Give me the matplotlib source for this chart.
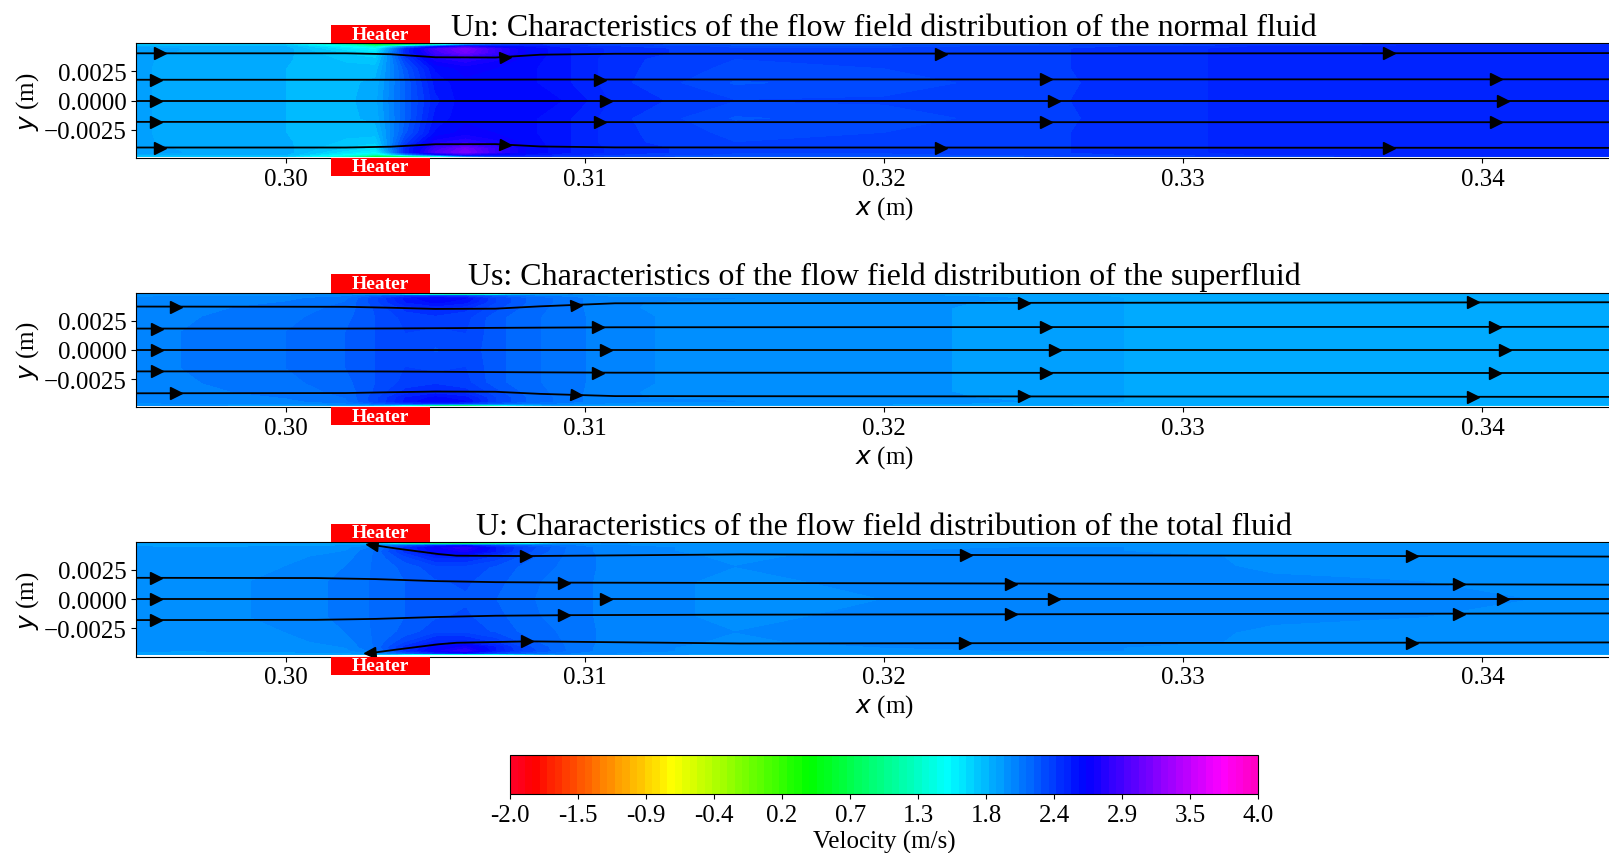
import numpy as np
import matplotlib
matplotlib.use("Agg")
import matplotlib.pyplot as plt
from matplotlib.patches import Rectangle
from matplotlib.markers import MarkerStyle
from matplotlib.transforms import Affine2D

plt.rcParams['font.family'] = ['Liberation Serif', 'DejaVu Serif']
plt.rcParams['mathtext.fontset'] = 'dejavusans'

# sampling stations of the velocity field (m)
x_st = [0.295, 0.2965, 0.300, 0.302, 0.303, 0.304, 0.305, 0.306, 0.307, 0.308,
        0.3095, 0.311, 0.315, 0.320, 0.3245, 0.328, 0.333, 0.338, 0.345]
y_half = [0.0, 0.0015, 0.0028, 0.0036, 0.0041, 0.0044, 0.0046, 0.00475]

# velocity (m/s), one list per x station, from centreline to wall
un_cols = [
    [1.92, 1.92, 1.92, 1.92, 1.94, 1.94, 1.88, 1.72],
    [1.86, 1.86, 1.86, 1.87, 1.89, 1.90, 1.88, 1.76],
    [1.84, 1.84, 1.84, 1.85, 1.86, 1.87, 1.84, 1.72],
    [1.82, 1.82, 1.80, 1.76, 1.70, 1.62, 1.50, 1.24],
    [1.88, 1.86, 1.80, 1.72, 1.62, 1.52, 1.26, 0.60],
    [2.20, 2.20, 2.24, 2.34, 2.44, 2.44, 2.02, 0.80],
    [2.48, 2.52, 2.57, 2.72, 2.87, 2.92, 2.50, 1.30],
    [2.60, 2.60, 2.65, 2.80, 3.10, 3.15, 2.80, 2.00],
    [2.62, 2.62, 2.62, 2.70, 2.85, 2.85, 2.60, 2.30],
    [2.60, 2.58, 2.58, 2.60, 2.62, 2.62, 2.55, 2.40],
    [2.55, 2.50, 2.50, 2.50, 2.50, 2.50, 2.45, 2.35],
    [2.42, 2.40, 2.40, 2.40, 2.42, 2.42, 2.38, 2.30],
    [2.32, 2.25, 2.30, 2.32, 2.33, 2.33, 2.30, 2.20],
    [2.33, 2.28, 2.32, 2.33, 2.33, 2.33, 2.30, 2.20],
    [2.36, 2.35, 2.36, 2.36, 2.36, 2.36, 2.33, 2.25],
    [2.40, 2.40, 2.40, 2.40, 2.40, 2.40, 2.38, 2.30],
    [2.47, 2.47, 2.47, 2.47, 2.47, 2.47, 2.45, 2.35],
    [2.50, 2.50, 2.50, 2.50, 2.50, 2.50, 2.48, 2.40],
    [2.45, 2.50, 2.50, 2.50, 2.50, 2.50, 2.48, 2.40],
]
us_cols = [
    [2.05, 2.05, 2.05, 2.05, 2.04, 2.03, 2.00, 1.95],
    [2.08, 2.08, 2.07, 2.06, 2.05, 2.04, 2.02, 1.95],
    [2.14, 2.14, 2.12, 2.10, 2.08, 2.06, 2.02, 1.92],
    [2.20, 2.20, 2.18, 2.16, 2.14, 2.12, 2.06, 1.90],
    [2.26, 2.26, 2.26, 2.27, 2.30, 2.30, 2.20, 1.70],
    [2.32, 2.32, 2.34, 2.40, 2.50, 2.52, 2.30, 1.20],
    [2.25, 2.30, 2.36, 2.46, 2.58, 2.62, 2.35, 0.60],
    [2.30, 2.32, 2.34, 2.40, 2.52, 2.56, 2.30, 0.50],
    [2.22, 2.22, 2.22, 2.28, 2.32, 2.32, 2.20, 1.00],
    [2.16, 2.16, 2.16, 2.18, 2.20, 2.20, 2.10, 1.60],
    [2.10, 2.10, 2.10, 2.10, 2.10, 2.10, 2.05, 1.90],
    [2.04, 2.04, 2.04, 2.03, 2.03, 2.03, 2.00, 1.90],
    [1.98, 1.98, 1.98, 1.98, 1.99, 2.02, 2.00, 1.90],
    [1.97, 1.97, 1.97, 1.97, 1.98, 2.00, 1.98, 1.88],
    [1.95, 1.95, 1.95, 1.95, 1.95, 1.96, 1.94, 1.86],
    [1.90, 1.90, 1.90, 1.90, 1.90, 1.90, 1.89, 1.84],
    [1.88, 1.88, 1.88, 1.88, 1.88, 1.88, 1.87, 1.82],
    [1.88, 1.88, 1.88, 1.88, 1.88, 1.88, 1.87, 1.82],
    [1.88, 1.88, 1.88, 1.88, 1.88, 1.88, 1.87, 1.82],
]
u_cols = [
    [2.02, 2.02, 2.02, 2.00, 1.98, 1.97, 1.95, 1.90],
    [2.00, 2.00, 2.00, 1.99, 1.97, 1.96, 1.95, 1.90],
    [2.03, 2.03, 2.02, 2.00, 1.98, 1.97, 1.95, 1.90],
    [2.10, 2.10, 2.08, 2.05, 2.02, 2.00, 1.95, 1.85],
    [2.15, 2.15, 2.15, 2.15, 2.15, 2.10, 2.00, 1.70],
    [2.20, 2.20, 2.22, 2.30, 2.40, 2.40, 2.20, 1.00],
    [2.22, 2.25, 2.30, 2.45, 2.60, 2.65, 2.40, 0.60],
    [2.25, 2.27, 2.30, 2.45, 2.70, 2.80, 2.50, 0.50],
    [2.20, 2.22, 2.25, 2.35, 2.50, 2.50, 2.30, 0.80],
    [2.15, 2.16, 2.18, 2.22, 2.28, 2.30, 2.20, 1.30],
    [2.10, 2.10, 2.12, 2.12, 2.12, 2.12, 2.08, 1.90],
    [2.06, 2.06, 2.05, 2.05, 2.04, 2.04, 2.02, 1.95],
    [2.00, 2.00, 2.02, 2.01, 2.00, 2.00, 1.98, 1.92],
    [2.02, 2.04, 2.06, 2.04, 2.02, 2.01, 2.00, 1.92],
    [2.03, 2.05, 2.06, 2.05, 2.03, 2.02, 2.00, 1.92],
    [2.02, 2.04, 2.05, 2.04, 2.02, 2.02, 2.00, 1.92],
    [2.05, 2.03, 2.01, 2.01, 2.01, 2.01, 2.00, 1.92],
    [2.04, 2.02, 2.00, 2.00, 2.00, 2.00, 1.98, 1.92],
    [2.00, 2.00, 2.00, 2.00, 2.00, 2.00, 1.98, 1.92],
]

# streamlines: (x points, y points) per line
sl_x = [0.295, 0.302, 0.3035, 0.305, 0.307, 0.3085, 0.311, 0.345]
un_lines = [
    (sl_x, [0.00404, 0.00404, 0.00396, 0.00370, 0.00368, 0.00392, 0.00400, 0.00406]),
    (sl_x, [0.00178, 0.00178, 0.00178, 0.00178, 0.00179, 0.00180, 0.00180, 0.00182]),
    (sl_x, [0, 0, 0, 0, 0, 0, 0, 0]),
    (sl_x, [-0.00182, -0.00182, -0.00182, -0.00182, -0.00183, -0.00184, -0.00184, -0.00185]),
    (sl_x, [-0.00401, -0.00401, -0.00394, -0.00373, -0.00372, -0.00392, -0.00400, -0.00404]),
]
us_lines = [
    (sl_x, [0.00370, 0.00368, 0.00360, 0.00350, 0.00352, 0.00372, 0.00398, 0.00407]),
    (sl_x, [0.00182, 0.00182, 0.00183, 0.00185, 0.00188, 0.00190, 0.00193, 0.00197]),
    (sl_x, [0, 0, 0, 0, 0, 0, 0, 0]),
    (sl_x, [-0.00184, -0.00184, -0.00185, -0.00187, -0.00190, -0.00192, -0.00195, -0.00198]),
    (sl_x, [-0.00371, -0.00369, -0.00362, -0.00356, -0.00358, -0.00376, -0.00395, -0.00402]),
]
u_wall_x = [0.3028, 0.3037, 0.3051, 0.3057, 0.3081, 0.3152, 0.345]
u_mid_x = [0.295, 0.301, 0.303, 0.305, 0.307, 0.3095, 0.315, 0.345]
u_lines = [
    (u_wall_x, [0.00467, 0.00433, 0.00386, 0.00372, 0.00369, 0.00383, 0.00364]),
    (u_mid_x, [0.00183, 0.00181, 0.00172, 0.00155, 0.00146, 0.00142, 0.00139, 0.00124]),
    ([0.295, 0.345], [0, 0]),
    (u_mid_x, [-0.00178, -0.00176, -0.00168, -0.00152, -0.00141, -0.00136, -0.00132, -0.00121]),
    (u_wall_x, [-0.00461, -0.00430, -0.00385, -0.00372, -0.00360, -0.00378, -0.00369]),
]

# arrow positions along each streamline (x) and their direction (+1 right, -1 left)
un_arrows = [[0.29579, 0.30731, 0.32189, 0.33689],
             [0.29566, 0.31049, 0.32541, 0.34044],
             [0.29566, 0.31069, 0.32569, 0.34069],
             [0.29566, 0.31049, 0.32541, 0.34044],
             [0.29579, 0.30731, 0.32189, 0.33689]]
us_arrows = [[0.29632, 0.30970, 0.32467, 0.33967],
             [0.29568, 0.31042, 0.32541, 0.34041],
             [0.29568, 0.31069, 0.32572, 0.34074],
             [0.29568, 0.31042, 0.32541, 0.34041],
             [0.29632, 0.30970, 0.32467, 0.33967]]
u_arrows = [[0.30287, 0.30804, 0.32272, 0.33763],
            [0.29566, 0.30930, 0.32424, 0.33920],
            [0.29566, 0.31069, 0.32569, 0.34069],
            [0.29566, 0.30930, 0.32424, 0.33920],
            [0.30280, 0.30805, 0.32271, 0.33764]]
u_arrow_dir = [[-1, 1, 1, 1], [1, 1, 1, 1], [1, 1, 1, 1], [1, 1, 1, 1], [-1, 1, 1, 1]]
right_dir = [[1, 1, 1, 1]] * 5

titles = ["Un: Characteristics of the flow field distribution of the normal fluid",
          "Us: Characteristics of the flow field distribution of the superfluid",
          "U: Characteristics of the flow field distribution of the total fluid"]

heater_x = (0.3015, 0.3048)
cbar_labels = ['-2.0', '-1.5', '-0.9', '-0.4', '0.2', '0.7', '1.3', '1.8', '2.4', '2.9', '3.5', '4.0']

levels = np.linspace(-2, 4, 101)
ylim = 0.0049

fig = plt.figure(figsize=(16.09, 8.54), dpi=100)
bottoms = [0.8139, 0.522, 0.230]

panels = [(un_cols, un_lines, un_arrows, right_dir),
          (us_cols, us_lines, us_arrows, right_dir),
          (u_cols, u_lines, u_arrows, u_arrow_dir)]

for b, (cols, lines, arrows, dirs), title in zip(bottoms, panels, titles):
    ax = fig.add_axes([0.0848, b, 0.9295, 0.1343])
    ax.set_xlim(0.295, 0.345)
    ax.set_ylim(-ylim, ylim)

    half = np.array(cols).T
    z = np.vstack([half[:0:-1], half])
    yy = np.concatenate([-np.array(y_half)[:0:-1], y_half])
    cf = ax.contourf(x_st, yy, z, levels=levels, cmap='gist_rainbow')

    for (lx, ly), ax_x, ds in zip(lines, arrows, dirs):
        ax.plot(lx, ly, color='k', lw=1.3, zorder=3)
        for xa, d in zip(ax_x, ds):
            ya = np.interp(xa, lx, ly)
            p0 = ax.transData.transform((xa - 0.0003, np.interp(xa - 0.0003, lx, ly)))
            p1 = ax.transData.transform((xa + 0.0003, np.interp(xa + 0.0003, lx, ly)))
            ang = np.degrees(np.arctan2(p1[1] - p0[1], p1[0] - p0[0]))
            if d < 0:
                ang += 180
            m = MarkerStyle('>', transform=Affine2D().rotate_deg(ang))
            ax.plot(xa, ya, marker=m, color='k', ms=8, ls='none', zorder=4)

    hh = 0.00155
    for y0 in (ylim, -ylim - hh):
        ax.add_patch(Rectangle((heater_x[0], y0), heater_x[1] - heater_x[0], hh,
                               facecolor='red', edgecolor='none', clip_on=False, zorder=5))
        ax.text((heater_x[0] + heater_x[1]) / 2, y0 + hh / 2, 'Heater', color='white',
                fontsize=14, fontweight='bold', ha='center', va='center', zorder=6)

    ax.set_yticks([-0.0025, 0.0, 0.0025])
    ax.set_xticks([0.30, 0.31, 0.32, 0.33, 0.34])
    ax.set_xticklabels(['0.30', '0.31', '0.32', '0.33', '0.34'])
    ax.tick_params(labelsize=18)
    ax.set_xlabel('$x$ (m)', fontsize=18, labelpad=3)
    ax.set_ylabel('$y$ (m)', fontsize=18, labelpad=2)
    ax.set_title(title, fontsize=23, pad=6)

cax = fig.add_axes([0.317, 0.0689, 0.465, 0.0457])
cb = fig.colorbar(cf, cax=cax, orientation='horizontal', ticks=np.linspace(-2, 4, 12))
cb.ax.set_xticklabels(cbar_labels)
cb.ax.tick_params(labelsize=18)
cb.set_label('Velocity (m/s)', fontsize=18, labelpad=3)

fig.savefig('out.png', dpi=100)
